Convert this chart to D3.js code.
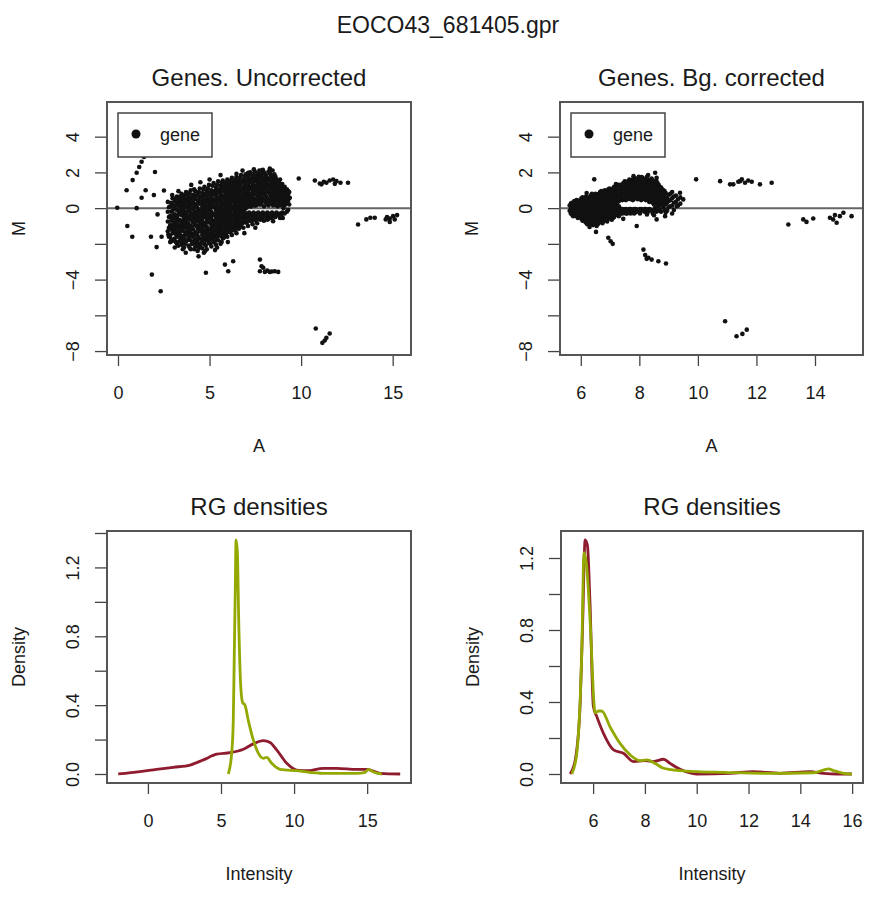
<!DOCTYPE html>
<html><head><meta charset="utf-8">
<script src="https://cdn.jsdelivr.net/npm/d3@7"></script>
<style>body{margin:0;background:#fff}text{font-family:"Liberation Sans",Arial,Helvetica,sans-serif;fill:#1a1a1a}</style>
</head><body>
<svg id="c" width="896" height="903"></svg>
<script>
// ---------- data ----------
const mainTitle = "EOCO43_681405.gpr";
const panelTitles = ["Genes. Uncorrected", "Genes. Bg. corrected", "RG densities", "RG densities"];
const legendLabel = "gene";

// dense cloud, uncorrected: [A, [M values]]
const uncorrCloud = [
  [2.72,[0.35,-0.2,-0.75,-1.3]],
  [2.85,[0.1,-0.45,-0.95,-1.55,-1.9]],
  [2.98,[0.55,0.2,-0.15,-0.6,-1.05,-1.4]],
  [3.1,[0.4,0.0,-0.35,-0.8,-1.2,-1.7]],
  [3.22,[0.65,0.25,-0.1,-0.5,-0.9,-1.3,-1.6,-2.0]],
  [3.35,[0.5,0.1,-0.25,-0.65,-1.05,-1.45,-1.85]],
  [3.47,[0.8,0.35,0.0,-0.4,-0.8,-1.15,-1.55,-2.05]],
  [3.6,[0.6,0.2,-0.15,-0.55,-0.95,-1.3,-1.7,-2.2]],
  [3.72,[0.9,0.45,0.05,-0.3,-0.7,-1.1,-1.45,-1.85]],
  [3.85,[0.7,0.3,-0.1,-0.5,-0.85,-1.25,-1.65,-2.1]],
  [3.97,[1.0,0.55,0.15,-0.25,-0.65,-1.0,-1.4,-1.8,-2.3]],
  [4.1,[0.75,0.35,-0.05,-0.45,-0.8,-1.2,-1.6,-1.95]],
  [4.22,[0.95,0.6,0.2,-0.2,-0.6,-0.95,-1.35,-1.75,-2.15]],
  [4.35,[0.8,0.4,0.0,-0.4,-0.75,-1.15,-1.55,-1.9,-2.4]],
  [4.47,[1.1,0.65,0.25,-0.15,-0.55,-0.9,-1.3,-1.7,-2.1]],
  [4.6,[0.85,0.45,0.05,-0.35,-0.7,-1.1,-1.5,-1.85,-2.25]],
  [4.72,[1.2,0.7,0.3,-0.1,-0.5,-0.85,-1.25,-1.65,-2.0]],
  [4.85,[0.95,0.5,0.1,-0.3,-0.65,-1.05,-1.45,-1.8,-2.3]],
  [4.97,[1.3,0.8,0.35,-0.05,-0.45,-0.8,-1.2,-1.6,-1.95]],
  [5.1,[1.0,0.6,0.2,-0.2,-0.6,-1.0,-1.4,-1.75,-2.15]],
  [5.22,[1.4,0.9,0.45,0.05,-0.35,-0.75,-1.1,-1.5,-1.9]],
  [5.35,[1.15,0.7,0.3,-0.1,-0.5,-0.9,-1.3,-1.65,-2.05]],
  [5.47,[1.5,1.0,0.55,0.15,-0.25,-0.65,-1.0,-1.4,-1.8]],
  [5.6,[1.25,0.8,0.4,0.0,-0.4,-0.8,-1.2,-1.55,-2.0]],
  [5.72,[1.55,1.1,0.65,0.25,-0.15,-0.55,-0.9,-1.3,-1.7]],
  [5.85,[1.35,0.9,0.5,0.1,-0.3,-0.7,-1.1,-1.45]],
  [5.97,[1.6,1.2,0.75,0.35,-0.05,-0.45,-0.8,-1.2,-1.6]],
  [6.1,[1.4,1.0,0.6,0.2,-0.2,-0.6,-1.0,-1.35]],
  [6.22,[1.7,1.25,0.85,0.45,0.05,-0.35,-0.7,-1.1,-1.5]],
  [6.35,[1.5,1.1,0.7,0.3,-0.1,-0.5,-0.9,-1.25]],
  [6.47,[1.75,1.35,0.95,0.55,0.15,-0.25,-0.6,-1.0,-1.4]],
  [6.6,[1.55,1.15,0.75,0.35,0.0,-0.4,-0.8,-1.15]],
  [6.72,[1.85,1.45,1.05,0.65,0.25,-0.15,-0.5,-0.9]],
  [6.85,[1.6,1.2,0.8,0.45,0.1,-0.3,-0.7,-1.1]],
  [6.97,[1.9,1.5,1.1,0.7,0.35,0.0,-0.4,-0.8]],
  [7.1,[1.7,1.3,0.9,0.55,0.2,-0.3,-0.6,-1.0]],
  [7.22,[2.0,1.6,1.2,0.8,0.45,0.1,-0.35,-0.7]],
  [7.35,[1.75,1.35,1.0,0.6,0.25,-0.3,-0.55,-0.9]],
  [7.47,[2.05,1.65,1.25,0.9,0.5,0.15,-0.35,-0.65]],
  [7.6,[1.8,1.45,1.05,0.7,0.3,-0.3,-0.5,-0.85]],
  [7.72,[2.1,1.7,1.3,0.95,0.55,0.2,-0.35,-0.6]],
  [7.85,[1.9,1.5,1.1,0.75,0.35,-0.3,-0.5]],
  [7.97,[2.0,1.6,1.2,0.85,0.45,0.1,-0.35,-0.7]],
  [8.1,[1.8,1.4,1.05,0.65,0.3,-0.3,-0.5]],
  [8.22,[2.05,1.65,1.25,0.9,0.5,0.15,-0.35,-0.6]],
  [8.35,[1.85,1.45,1.1,0.7,0.35,-0.3,-0.55]],
  [8.47,[1.6,1.25,0.9,0.5,0.15,-0.35]],
  [8.6,[1.75,1.35,1.0,0.6,0.3,-0.3,-0.5]],
  [8.72,[1.5,1.15,0.8,0.45,0.1,-0.35]],
  [8.85,[1.6,1.25,0.9,0.55,0.2,-0.3,-0.55]],
  [8.97,[1.35,1.0,0.65,0.3,-0.25]],
  [9.1,[1.2,0.85,0.5,0.15,-0.3]],
  [9.22,[1.05,0.7,0.35,-0.2]],
  [9.35,[0.9,0.55,0.2]]
];
// second, interleaved set of the uncorrected cloud
const uncorrCloud2 = [
  [2.78,[-0.5,-1.1,0.05,-1.6]],
  [2.91,[0.3,-0.2,-0.7,-1.2,-1.75]],
  [3.04,[0.0,-0.4,-0.9,-1.3,-1.8]],
  [3.16,[0.55,0.15,-0.6,-1.0,-1.45,-1.9]],
  [3.29,[0.35,-0.35,-0.7,-1.1,-1.5,-2.1]],
  [3.41,[0.65,0.2,-0.15,-0.95,-1.3,-1.7]],
  [3.54,[0.45,0.05,-0.3,-0.7,-1.1,-1.9,-2.3]],
  [3.66,[0.75,0.35,-0.45,-0.85,-1.5,-2.0]],
  [3.79,[0.55,0.15,-0.2,-0.6,-1.0,-1.35,-1.8]],
  [3.91,[0.85,0.4,-0.05,-0.45,-1.2,-1.55,-2.2]],
  [4.04,[0.6,0.25,-0.3,-0.65,-1.05,-1.45,-2.0]],
  [4.16,[1.05,0.5,0.05,-0.4,-0.8,-1.5,-1.85,-2.3]],
  [4.29,[0.7,0.2,-0.2,-0.55,-1.0,-1.4,-2.05]],
  [4.41,[0.9,0.45,-0.3,-0.7,-1.1,-1.7,-2.25]],
  [4.54,[0.65,0.25,-0.15,-0.5,-0.9,-1.3,-2.0]],
  [4.66,[1.05,0.5,0.1,-0.3,-1.0,-1.4,-1.75]],
  [4.79,[0.8,0.35,-0.1,-0.45,-0.85,-1.25,-1.65,-2.1]],
  [4.91,[1.1,0.6,0.15,-0.25,-0.6,-1.4,-1.8]],
  [5.04,[0.85,0.4,0.0,-0.4,-0.8,-1.2,-1.55,-2.0]],
  [5.16,[1.25,0.75,0.3,-0.4,-0.9,-1.3,-1.7]],
  [5.29,[0.95,0.5,0.1,-0.3,-0.7,-1.1,-1.5,-1.85]],
  [5.41,[1.3,0.85,0.4,-0.05,-0.45,-0.8,-1.2,-1.6,-2.2]],
  [5.54,[1.05,0.6,0.2,-0.2,-0.6,-1.0,-1.4]],
  [5.66,[1.4,0.95,0.5,0.1,-0.35,-0.7,-1.1,-1.5,-1.9]],
  [5.79,[1.2,0.7,0.3,-0.1,-0.5,-0.9,-1.3,-1.65]],
  [5.91,[1.45,1.05,0.6,0.2,-0.25,-0.65,-1.0,-1.4]],
  [6.04,[1.25,0.85,0.45,0.0,-0.4,-0.8,-1.2]],
  [6.16,[1.55,1.1,0.7,0.3,-0.1,-0.5,-0.9,-1.3]],
  [6.29,[1.35,0.95,0.55,0.1,-0.3,-0.7,-1.05]],
  [6.41,[1.6,1.2,0.8,0.4,0.0,-0.45,-0.8,-1.2]],
  [6.54,[1.4,1.0,0.6,0.2,-0.2,-0.6,-0.95]],
  [6.66,[1.7,1.3,0.9,0.5,0.1,-0.3,-0.7,-1.05]],
  [6.79,[1.45,1.05,0.65,0.3,-0.1,-0.5,-0.85]],
  [6.91,[1.75,1.35,0.95,0.55,0.2,-0.2,-0.6]],
  [7.04,[1.55,1.15,0.75,0.4,0.05,-0.45,-0.8]],
  [7.16,[1.85,1.45,1.05,0.65,0.3,-0.25,-0.5]],
  [7.29,[1.6,1.2,0.8,0.45,0.1,-0.45,-0.75]],
  [7.41,[1.9,1.5,1.1,0.75,0.35,-0.25,-0.5]],
  [7.54,[1.65,1.25,0.9,0.5,0.15,-0.4,-0.7]],
  [7.66,[1.95,1.55,1.15,0.8,0.4,-0.25,-0.45]],
  [7.79,[1.75,1.35,0.95,0.6,0.2,-0.4,-0.65]],
  [7.91,[2.15,1.7,1.3,0.95,0.55,-0.25,-0.5]],
  [8.04,[1.9,1.5,1.15,0.75,0.35,-0.4]],
  [8.16,[1.65,1.3,0.95,0.55,0.2,-0.25,-0.65]],
  [8.29,[1.95,1.55,1.2,0.8,0.4,-0.4]],
  [8.41,[1.75,1.35,1.0,0.6,0.25,-0.25,-0.5]],
  [8.54,[1.9,1.5,1.1,0.75,0.35,-0.4]],
  [8.66,[1.6,1.25,0.9,0.5,0.15,-0.25]],
  [8.79,[1.45,1.05,0.7,0.35,-0.4]],
  [8.91,[1.2,0.85,0.5,0.15,-0.4]],
  [9.04,[1.05,0.7,0.35,0.0]],
  [9.16,[0.95,0.6,0.25]],
  [9.29,[0.75,0.4,-0.1]]
];
// isolated points, uncorrected: [A, M]
const uncorrPoints = [
  [-0.04,0.02],[1.02,0.0],[1.6,3.19],[1.42,2.86],[1.29,2.6],[1.16,2.3],[1.02,1.98],[0.8,1.57],
  [2.02,2.02],[0.47,1.0],[1.51,1.0],[1.29,0.58],[1.96,0.73],[2.51,0.99],[2.96,0.73],
  [0.51,-1.0],[0.78,-1.6],[1.8,-1.6],[2.38,-1.6],[2.75,-1.48],[2.93,-1.85],[2.11,-2.18],[2.16,-0.35],
  [1.85,-3.72],[2.33,-4.65],[4.69,-2.5],[4.75,-2.41],[4.8,-3.62],[5.84,-3.16],[6.02,-3.53],[6.29,-2.97],
  [7.75,-2.88],[7.84,-3.25],[7.75,-3.53],[8.02,-3.57],[8.29,-3.57],[8.56,-3.53],[8.75,-3.57],[7.93,-3.34],[8.15,-3.5],[8.4,-3.55],
  [6.47,1.92],[7.11,1.98],[7.42,2.17],[7.84,2.11],[8.29,2.22],[8.44,2.11],[9.29,0.95],[9.38,0.58],[8.93,0.39],[8.47,-0.73],
  [3.3,0.95],[4.0,1.3],[4.5,1.45],[3.7,-2.5],[4.4,-2.7],[5.3,-2.35],[5.6,1.85],[6.0,-1.9],[6.9,-1.4],[3.1,-2.2],[5.0,1.6],[6.8,2.1],[7.5,-1.1],[9.0,-0.55],
  [9.87,1.66],[10.75,1.55],[11.02,1.38],[11.11,1.33],[11.24,1.48],[11.38,1.42],[11.56,1.55],[11.75,1.6],[11.84,1.36],[11.93,1.51],[12.15,1.42],[12.56,1.42],
  [13.11,-0.92],[13.56,-0.63],[13.78,-0.54],[14.02,-0.54],[14.62,-0.63],[14.69,-0.5],[14.84,-0.58],[14.84,-0.77],[15.02,-0.45],[15.11,-0.63],[15.24,-0.39],
  [10.8,-6.74],[11.56,-7.02],[11.38,-7.26],[11.16,-7.54],[11.29,-7.41]
];

// dense cloud, background corrected: [A, [M values]]
const bgCloud = [
  [5.62,[0.15,-0.15]],
  [5.7,[0.3,0.05,-0.2,-0.35]],
  [5.78,[0.4,0.15,-0.1,-0.3]],
  [5.86,[0.45,0.2,-0.05,-0.25,-0.45]],
  [5.94,[0.35,0.1,-0.15,-0.4]],
  [6.02,[0.55,0.3,0.05,-0.2,-0.45,-0.6]],
  [6.1,[0.45,0.2,-0.05,-0.3,-0.55]],
  [6.18,[0.65,0.4,0.15,-0.1,-0.35,-0.6,-0.8]],
  [6.26,[0.5,0.25,0.0,-0.25,-0.5,-0.7]],
  [6.34,[0.7,0.45,0.2,-0.05,-0.3,-0.55,-0.85]],
  [6.42,[0.6,0.35,0.1,-0.15,-0.4,-0.65,-0.95]],
  [6.5,[0.8,0.55,0.3,0.05,-0.2,-0.45,-0.75]],
  [6.58,[0.65,0.4,0.15,-0.1,-0.35,-0.6,-0.9]],
  [6.66,[0.9,0.6,0.35,0.1,-0.15,-0.4,-0.7]],
  [6.74,[0.75,0.5,0.25,0.0,-0.25,-0.55,-0.85]],
  [6.82,[1.0,0.7,0.45,0.2,-0.05,-0.3,-0.6]],
  [6.9,[0.85,0.6,0.3,0.05,-0.2,-0.5,-0.75]],
  [6.98,[1.1,0.8,0.55,0.3,0.0,-0.25,-0.55]],
  [7.06,[0.95,0.65,0.4,0.15,-0.15,-0.4,-0.65]],
  [7.14,[1.2,0.9,0.6,0.35,0.05,-0.2,-0.5]],
  [7.22,[1.0,0.75,0.5,0.2,-0.1,-0.35]],
  [7.3,[1.3,1.0,0.7,0.4,0.1,-0.15,-0.45]],
  [7.38,[1.15,0.85,0.55,-0.05,-0.3]],
  [7.46,[1.4,1.1,0.8,0.5,-0.1,-0.25]],
  [7.54,[1.25,0.95,0.65,0.45,-0.05,-0.3]],
  [7.62,[1.5,1.2,0.9,0.6,-0.1,-0.2]],
  [7.7,[1.35,1.05,0.75,0.5,-0.05,-0.3]],
  [7.78,[1.6,1.3,1.0,0.7,0.45,-0.1]],
  [7.86,[1.45,1.15,0.85,0.55,-0.05,-0.25]],
  [7.94,[1.65,1.35,1.05,0.75,0.5,-0.1]],
  [8.02,[1.5,1.2,0.9,0.6,-0.05,-0.3]],
  [8.1,[1.7,1.4,1.1,0.8,0.5,-0.1]],
  [8.18,[1.55,1.25,0.95,0.65,-0.05,-0.2]],
  [8.26,[1.75,1.45,1.15,0.85,0.55,-0.1,-0.35]],
  [8.34,[1.5,1.2,0.9,0.6,0.35,-0.05]],
  [8.42,[1.65,1.35,1.05,0.75,0.45,-0.15]],
  [8.5,[1.4,1.1,0.8,0.5,0.2,-0.1,-0.4]],
  [8.58,[1.55,1.2,0.9,0.6,0.3,-0.2]],
  [8.66,[1.3,1.0,0.7,0.4,0.1]],
  [8.74,[1.15,0.85,0.55,0.25,-0.2]],
  [8.82,[1.0,0.7,0.4,0.05]],
  [8.9,[0.85,0.5,0.2,-0.25]],
  [9.0,[0.75,0.4,0.05]],
  [9.12,[0.9,0.55,0.15,-0.3]],
  [9.25,[0.7,0.35]],
  [9.4,[0.6,0.25]]
];
// second, interleaved set of the background-corrected cloud
const bgCloud2 = [
  [5.66,[0.25,-0.05,-0.3]],
  [5.74,[0.2,-0.1,-0.45]],
  [5.82,[0.3,0.05,-0.2,-0.4]],
  [5.9,[0.25,0.0,-0.3,-0.55]],
  [5.98,[0.45,0.2,-0.05,-0.3,-0.5]],
  [6.06,[0.6,0.35,0.1,-0.15,-0.4,-0.7]],
  [6.14,[0.55,0.3,0.05,-0.2,-0.45,-0.75]],
  [6.22,[0.5,0.25,0.0,-0.25,-0.5,-0.9]],
  [6.3,[0.6,0.35,0.1,-0.15,-0.4,-0.65]],
  [6.38,[0.8,0.55,0.3,0.05,-0.2,-0.45,-0.7]],
  [6.46,[0.7,0.45,0.2,-0.05,-0.3,-0.55,-0.85]],
  [6.54,[0.65,0.4,0.15,-0.1,-0.35,-0.6,-1.0]],
  [6.62,[0.8,0.5,0.25,0.0,-0.25,-0.5,-0.8]],
  [6.7,[0.95,0.7,0.45,0.2,-0.05,-0.3,-0.6]],
  [6.78,[0.85,0.6,0.35,0.1,-0.15,-0.4,-0.7]],
  [6.86,[0.95,0.7,0.45,0.2,-0.1,-0.35,-0.65]],
  [6.94,[1.05,0.8,0.5,0.25,-0.05,-0.3,-0.6]],
  [7.02,[0.9,0.65,0.4,0.1,-0.2,-0.45]],
  [7.1,[1.1,0.8,0.5,0.25,-0.05,-0.3,-0.55]],
  [7.18,[1.15,0.85,0.55,0.3,0.0,-0.25]],
  [7.26,[1.25,0.95,0.65,0.35,0.05,-0.2,-0.4]],
  [7.34,[1.05,0.75,0.45,-0.15]],
  [7.42,[1.35,1.05,0.75,0.45,-0.05,-0.3]],
  [7.5,[1.5,1.15,0.85,0.55,-0.1]],
  [7.58,[1.35,1.05,0.75,0.5,-0.15,-0.3]],
  [7.66,[1.6,1.3,1.0,0.7,-0.05]],
  [7.74,[1.45,1.15,0.85,0.6,-0.15]],
  [7.82,[1.7,1.4,1.1,0.8,0.55,-0.05,-0.3]],
  [7.9,[1.55,1.25,0.95,0.65,-0.1]],
  [7.98,[1.75,1.45,1.15,0.85,0.55,-0.2]],
  [8.06,[1.6,1.3,1.0,0.7,0.45,-0.05]],
  [8.14,[1.55,1.25,0.95,0.7,-0.15]],
  [8.22,[1.65,1.35,1.05,0.75,0.45,-0.05]],
  [8.3,[1.85,1.6,1.3,1.0,0.7,0.45,-0.2]],
  [8.38,[1.45,1.15,0.85,0.55,-0.1]],
  [8.46,[1.55,1.25,0.95,0.65,0.3,-0.3]],
  [8.54,[1.3,1.0,0.7,0.4,0.0]],
  [8.62,[1.4,1.05,0.75,0.45,0.2,-0.15]],
  [8.7,[1.2,0.9,0.6,0.3,-0.1]],
  [8.78,[1.05,0.75,0.45,0.15]],
  [8.86,[0.95,0.6,0.3,-0.1]],
  [8.95,[0.6,0.3,-0.15]],
  [9.06,[0.8,0.45,0.1]],
  [9.18,[0.65,0.3,-0.1]],
  [9.32,[0.5,0.15]]
];
const bgPoints = [
  [6.46,1.61],[9.94,1.61],[10.76,1.51],[11.1,1.33],[11.21,1.33],[11.38,1.48],[11.44,1.51],[11.5,1.61],[11.61,1.42],[11.72,1.55],[11.84,1.48],[12.12,1.33],[12.52,1.42],
  [13.09,-0.92],[13.6,-0.63],[13.71,-0.77],[13.94,-0.58],[14.51,-0.54],[14.62,-0.63],[14.68,-0.39],[14.74,-0.82],[14.85,-0.45],[14.97,-0.26],[15.25,-0.45],
  [10.93,-6.33],[11.32,-7.17],[11.52,-7.04],[11.67,-6.8],
  [8.14,-2.32],[8.2,-2.63],[8.25,-2.84],[8.31,-2.78],[8.42,-2.88],[8.65,-2.97],[8.91,-3.1],
  [6.52,-1.33],[6.94,-1.66],[7.02,-1.85],[7.09,-2.0],
  [7.8,1.79],[8.08,1.74],[8.54,1.98],[8.59,1.7],[7.63,1.51],[9.39,0.86],[9.5,0.49],[9.28,0.11],[8.88,-0.45],[8.59,-0.63],[7.91,-1.0],
  [6.3,-1.05],[7.2,1.35],[6.2,0.85],[7.45,-0.6]
];

// density curves: [intensity, density]
const densUncorrRed = [[-2.03,0.0],[-0.55,0.014],[0.59,0.027],[1.74,0.039],[2.88,0.052],[3.79,0.082],[4.7,0.115],[5.62,0.124],[6.53,0.144],[7.21,0.175],[7.9,0.194],[8.36,0.183],[8.81,0.14],[9.5,0.062],[10.18,0.023],[10.87,0.019],[12.0,0.033],[12.92,0.033],[14.29,0.027],[14.97,0.027],[15.9,0.004],[17.26,0.0]];
const densUncorrGreen = [[5.5,0.0],[5.73,0.12],[5.84,0.31],[5.91,0.70],[5.98,1.09],[6.03,1.36],[6.12,1.29],[6.21,0.9],[6.35,0.51],[6.48,0.415],[6.64,0.40],[6.87,0.31],[7.21,0.198],[7.56,0.12],[7.9,0.091],[8.13,0.097],[8.47,0.062],[9.04,0.027],[10.18,0.019],[12.0,0.004],[14.29,0.004],[14.86,0.01],[15.09,0.027],[15.43,0.012],[16.0,0.0]];
const densBgRed = [[5.11,0],[5.31,0.078],[5.5,0.39],[5.6,0.86],[5.69,1.30],[5.78,1.27],[5.88,0.95],[6.01,0.375],[6.14,0.32],[6.4,0.226],[6.79,0.134],[7.17,0.115],[7.56,0.069],[8.0,0.074],[8.33,0.069],[8.72,0.082],[8.97,0.059],[9.36,0.026],[10.0,0.0],[11.29,0.004],[12.19,0.013],[13.22,0.004],[14.38,0.013],[14.89,0.004],[15.4,0.0],[15.99,0.0]];
const densBgGreen = [[5.18,0],[5.37,0.115],[5.56,0.67],[5.65,1.23],[5.76,1.14],[5.88,0.86],[6.08,0.34],[6.21,0.35],[6.33,0.35],[6.66,0.26],[7.04,0.17],[7.43,0.106],[7.81,0.074],[8.07,0.078],[8.39,0.059],[8.72,0.032],[9.36,0.019],[10.0,0.013],[11.03,0.009],[12.58,0.004],[14.51,0.007],[14.89,0.022],[15.09,0.028],[15.28,0.019],[15.67,0.004],[15.99,0.0]];

// ticks
const maYTicks = [4,2,0,-2,-4,-6,-8];
const maYTickLabels = ["4","2","0","","−4","","−8"];
const uncorrXTicks = [0,5,10,15];
const bgXTicks = [6,8,10,12,14];
const densYTicks = [0,0.2,0.4,0.6,0.8,1.0,1.2,1.4];
const densYTickLabels = ["0.0","","0.4","","0.8","","1.2",""];
const densBgYTicks = [0,0.2,0.4,0.6,0.8,1.0,1.2];
const densBgYTickLabels = ["0.0","","0.4","","0.8","","1.2"];
const densUncorrXTicks = [0,5,10,15];
const densBgXTicks = [6,8,10,12,14,16];

const redCol = "#8e1b2e", greenCol = "#93a800";

// ---------- drawing ----------
const svg = d3.select("#c");
const FT = 18;

svg.append("text").attr("x",448).attr("y",33).attr("text-anchor","middle").attr("font-size",23).text(mainTitle);

function panel(o){
  const x = d3.scaleLinear().domain(o.xd).range([o.x0,o.x1]);
  const y = d3.scaleLinear().domain(o.yd).range([o.y1,o.y0]);
  const g = svg.append("g");
  g.append("text").attr("x",(o.x0+o.x1)/2).attr("y",o.y0-16).attr("text-anchor","middle").attr("font-size",24).text(o.title);
  const xa = d3.axisBottom(x).tickValues(o.xt).tickSize(11).tickFormat(d=>d);
  const gx = g.append("g").attr("transform",`translate(0,${o.y1})`).call(xa);
  gx.select(".domain").attr("d",`M${x(o.xt[0])},0H${x(o.xt[o.xt.length-1])}`).attr("stroke","#444").attr("stroke-width",1.3);
  gx.selectAll(".tick line").attr("stroke","#444").attr("stroke-width",1.3);
  gx.selectAll(".tick text").attr("font-size",FT).attr("dy",null).attr("y",44).attr("fill","#1a1a1a");
  const ya = d3.axisLeft(y).tickValues(o.yt).tickSize(12).tickFormat((d,i)=>o.ytl[i]);
  const gy = g.append("g").attr("transform",`translate(${o.x0},0)`).call(ya);
  gy.select(".domain").attr("d",`M0,${y(o.yt[0])}V${y(o.yt[o.yt.length-1])}`).attr("stroke","#444").attr("stroke-width",1.3);
  gy.selectAll(".tick line").attr("stroke","#444").attr("stroke-width",1.3);
  gy.selectAll(".tick text").attr("font-size",FT).attr("x",null).attr("dy",null)
    .attr("text-anchor","middle").attr("fill","#1a1a1a")
    .attr("transform","translate(-28,0) rotate(-90)");
  g.append("text").attr("x",(o.x0+o.x1)/2).attr("y",o.y1+97).attr("text-anchor","middle").attr("font-size",FT).text(o.xlab);
  g.append("text").attr("transform",`translate(${o.x0-82},${(o.y0+o.y1)/2}) rotate(-90)`).attr("text-anchor","middle").attr("font-size",FT).text(o.ylab);
  const body = g.append("g");
  g.append("rect").attr("x",o.x0).attr("y",o.y0).attr("width",o.x1-o.x0).attr("height",o.y1-o.y0)
    .attr("fill","none").attr("stroke","#555").attr("stroke-width",2);
  return {x,y,g:body,top:g};
}

function scatter(o, clouds, pts){
  const p = panel(o);
  const all = [];
  clouds.forEach(cloud=>cloud.forEach(([a,ms])=>ms.forEach(m=>all.push([a,m]))));
  pts.forEach(d=>all.push(d));
  p.g.append("line").attr("x1",o.x0).attr("x2",o.x1).attr("y1",p.y(0)).attr("y2",p.y(0)).attr("stroke","#666").attr("stroke-width",2);
  p.g.selectAll("circle").data(all).join("circle").attr("cx",d=>p.x(d[0])).attr("cy",d=>p.y(d[1])).attr("r",2.3).attr("fill","#111");
  const lx = o.x0+11, ly = o.y0+11;
  p.top.append("rect").attr("x",lx).attr("y",ly).attr("width",94).attr("height",44).attr("fill","#fff").attr("stroke","#444").attr("stroke-width",1.5);
  p.top.append("circle").attr("cx",lx+18).attr("cy",ly+21).attr("r",4.5).attr("fill","#111");
  p.top.append("text").attr("x",lx+42).attr("y",ly+28).attr("font-size",18).text(legendLabel);
}

function density(o, red, green){
  const p = panel(o);
  const line = d3.line().x(d=>p.x(d[0])).y(d=>p.y(d[1])).curve(d3.curveMonotoneX);
  p.g.append("path").attr("d",line(red)).attr("fill","none").attr("stroke",redCol).attr("stroke-width",2.8).attr("stroke-linejoin","round");
  p.g.append("path").attr("d",line(green)).attr("fill","none").attr("stroke",greenCol).attr("stroke-width",2.8).attr("stroke-linejoin","round");
}

scatter({x0:107,x1:411,y0:102,y1:355,xd:[-0.6,16.0],yd:[-8.22,5.94],xt:uncorrXTicks,yt:maYTicks,ytl:maYTickLabels,title:panelTitles[0],xlab:"A",ylab:"M"}, [uncorrCloud,uncorrCloud2], uncorrPoints);
scatter({x0:560,x1:863,y0:102,y1:355,xd:[5.29,15.64],yd:[-8.22,5.94],xt:bgXTicks,yt:maYTicks,ytl:maYTickLabels,title:panelTitles[1],xlab:"A",ylab:"M"}, [bgCloud,bgCloud2], bgPoints);
density({x0:107,x1:411,y0:531,y1:783,xd:[-2.8,18.0],yd:[-0.0523,1.4116],xt:densUncorrXTicks,yt:densYTicks,ytl:densYTickLabels,title:panelTitles[2],xlab:"Intensity",ylab:"Density"}, densUncorrRed, densUncorrGreen);
density({x0:561,x1:863,y0:531,y1:783,xd:[4.76,16.42],yd:[-0.05,1.35],xt:densBgXTicks,yt:densBgYTicks,ytl:densBgYTickLabels,title:panelTitles[3],xlab:"Intensity",ylab:"Density"}, densBgRed, densBgGreen);
</script>
</body></html>
